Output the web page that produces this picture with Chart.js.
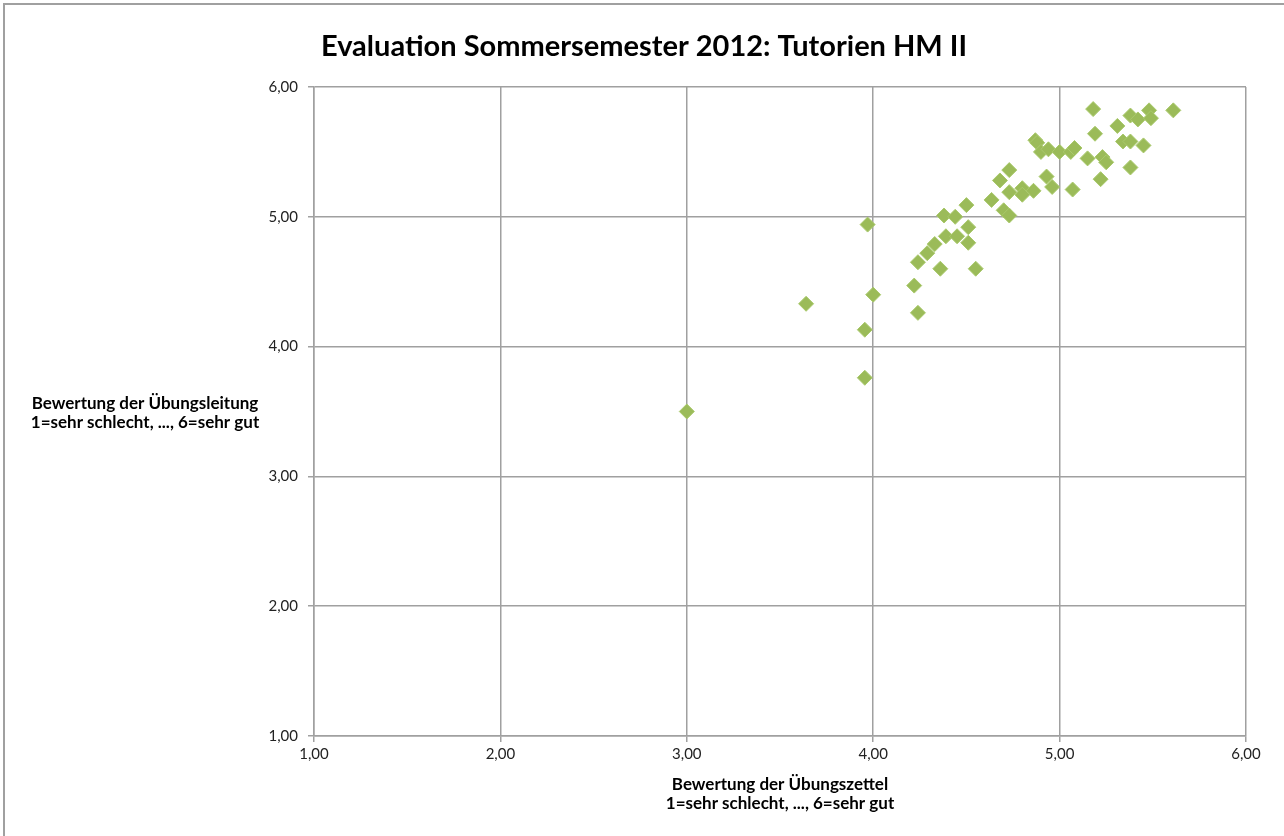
<!DOCTYPE html>
<html>
<head>
<meta charset="utf-8">
<script src="https://cdn.jsdelivr.net/npm/chart.js@4.4.1/dist/chart.umd.min.js"></script>
<style>
  html, body { margin: 0; padding: 0; background: #fff; }
  #wrap { width: 1284px; height: 836px; position: relative; }
</style>
</head>
<body>
<div id="wrap"><canvas id="chart" width="1284" height="836"></canvas></div>
<script>
const chartTitle = 'Evaluation Sommersemester 2012: Tutorien HM II'
const xTitle = ['Bewertung der Übungszettel', '1=sehr schlecht, ..., 6=sehr gut']
const yTitle = ['Bewertung der Übungsleitung', '1=sehr schlecht, ..., 6=sehr gut']
const tickLabels = ['1,00', '2,00', '3,00', '4,00', '5,00', '6,00']

// Übungszettel (x) and Übungsleitung (y) per tutorial
const zettel = [3.00, 3.64, 3.97, 4.00, 3.955, 3.955, 4.22, 4.24, 4.24, 4.29,
  4.33, 4.36, 4.38, 4.44, 4.39, 4.45, 4.51, 4.51, 4.50, 4.55,
  4.635, 4.70, 4.73, 4.68, 4.73, 4.73, 4.80, 4.80, 4.86, 4.93,
  4.96, 4.87, 4.88, 4.90, 4.94, 5.00, 5.06, 5.08, 5.07, 5.15,
  5.18, 5.19, 5.23, 5.25, 5.22, 5.31, 5.34, 5.38, 5.38, 5.38,
  5.42, 5.45, 5.48, 5.49, 5.61]
const leitung = [3.50, 4.33, 4.94, 4.40, 4.13, 3.76, 4.47, 4.26, 4.65, 4.72,
  4.79, 4.60, 5.01, 5.00, 4.85, 4.85, 4.92, 4.80, 5.09, 4.60,
  5.13, 5.05, 5.01, 5.28, 5.36, 5.19, 5.22, 5.17, 5.20, 5.31,
  5.23, 5.59, 5.57, 5.50, 5.52, 5.50, 5.50, 5.53, 5.21, 5.45,
  5.83, 5.64, 5.46, 5.42, 5.29, 5.70, 5.58, 5.58, 5.38, 5.78,
  5.75, 5.55, 5.82, 5.76, 5.82]

const points = zettel.map((x, i) => ({ x: x, y: leitung[i] }))

const fontFam = 'Lato, "Open Sans", sans-serif'
const gridColor = '#a0a0a0'

const textPlugin = {
  id: 'texts',
  beforeDraw(chart) {
    const ctx = chart.ctx
    ctx.save()
    ctx.strokeStyle = '#a0a0a0'
    ctx.lineWidth = 2
    ctx.beginPath()
    ctx.moveTo(4, 900)
    ctx.lineTo(4, 4)
    ctx.lineTo(1400, 4)
    ctx.stroke()
    ctx.restore()
  },
  afterDraw(chart) {
    const ctx = chart.ctx
    const area = chart.chartArea
    ctx.save()
    ctx.fillStyle = '#000'
    ctx.textAlign = 'center'
    ctx.textBaseline = 'middle'
    ctx.font = 'bold 29px ' + fontFam
    ctx.fillText(chartTitle, 644, 47)
    ctx.font = 'bold 17px ' + fontFam
    ctx.fillText(yTitle[0], 145, 404)
    ctx.fillText(yTitle[1], 145, 423)
    const cx = (area.left + area.right) / 2
    ctx.fillText(xTitle[0], cx, 785)
    ctx.fillText(xTitle[1], cx, 804)
    ctx.restore()
  }
}

const chart = document.getElementById('chart')

new Chart(chart, {
  type: 'scatter',
  data: {
    datasets: [{
      label: 'Tutorien',
      data: points,
      pointStyle: 'rectRot',
      pointRadius: 7.5,
      pointHoverRadius: 7.5,
      backgroundColor: '#9bbb59',
      borderColor: '#a9c96c',
      borderWidth: 1
    }]
  },
  options: {
    responsive: false,
    animation: false,
    layout: { padding: { left: 0, top: 87, right: 38, bottom: 0 } },
    plugins: {
      legend: { display: false },
      tooltip: { enabled: false }
    },
    scales: {
      x: {
        type: 'linear',
        min: 1,
        max: 6,
        afterFit: (s) => { s.height = 100 },
        border: { color: gridColor, width: 1.5 },
        grid: { color: gridColor, lineWidth: 1.5, tickLength: 6 },
        ticks: {
          stepSize: 1,
          padding: 3,
          color: '#222',
          font: { family: fontFam, size: 15 },
          callback: (v) => tickLabels[v - 1]
        }
      },
      y: {
        type: 'linear',
        min: 1,
        max: 6,
        afterFit: (s) => { s.width = 314 },
        border: { color: gridColor, width: 1.5 },
        grid: { color: gridColor, lineWidth: 1.5, tickLength: 6 },
        ticks: {
          stepSize: 1,
          padding: 10,
          color: '#222',
          font: { family: fontFam, size: 15 },
          callback: (v) => tickLabels[v - 1]
        }
      }
    }
  },
  plugins: [textPlugin]
});
</script>
</body>
</html>
